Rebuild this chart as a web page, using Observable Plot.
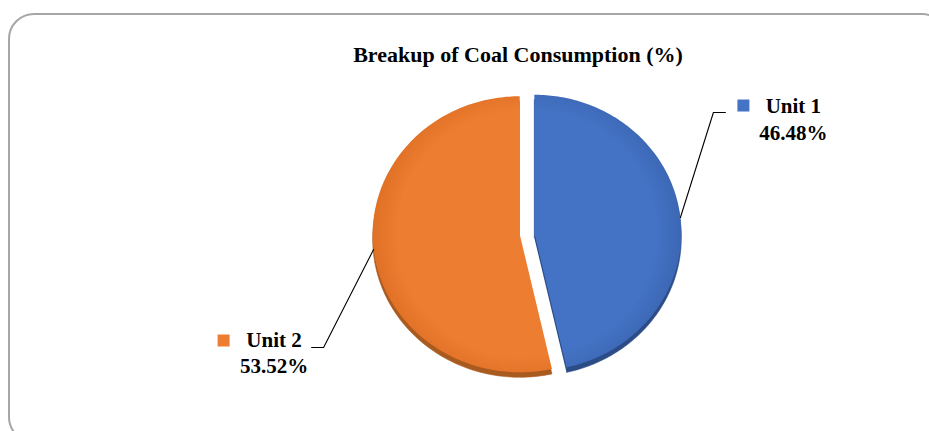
<!DOCTYPE html>
<html>
<head>
<meta charset="utf-8">
<script src="https://cdn.jsdelivr.net/npm/d3@7"></script>
<script src="https://cdn.jsdelivr.net/npm/@observablehq/plot@0.6"></script>
<style>
  html, body { margin: 0; padding: 0; background: #fff; overflow: hidden; }
  #chart { position: relative; width: 929px; height: 431px; overflow: hidden; font-family: "Liberation Serif", "Times New Roman", serif; }
  #frame { position: absolute; left: 8px; top: 13px; width: 940px; height: 430px; border: 2px solid #a6a6a6; border-radius: 26px; box-sizing: border-box; }
  #title { position: absolute; left: 268px; width: 500px; top: 44px; text-align: center; font-weight: bold; font-size: 22px; line-height: 22px; color: #000; }
  #plot { position: absolute; left: 0; top: 0; }
</style>
</head>
<body>
<div id="chart">
  <div id="frame"></div>
  <div id="plot"></div>
  <div id="title">Breakup of Coal Consumption (%)</div>
</div>
<script>
// Coal consumption split between the two units (%)
const units = ["Unit 1", "Unit 2"];
const shares = [46.48, 53.52];
const shareLabels = ["46.48%", "53.52%"];

// Slice colours: face, rim (gradient edge) and the darker side wall
const faceColors = ["#4472C4", "#ED7D31"];
const rimColors = ["#3B66B3", "#DE6F24"];
const sideColors = ["#2B4C86", "#A95A1E"];

// Layout (pixels)
const W = 929, H = 431;
const CX = 526.5, CY = 233;     // pie centre
const RX = 147, RY = 138;       // slight tilt: horizontal / vertical radius
const EXPLODE = 0.05;           // slice pull-out, in radius units
const DEPTH = 5;                // visible thickness of the pie wall
// leader bends: [elbow dx, elbow dy, horizontal tail]
const leaderBends = [[33, -105, 12], [-50, 98, -12]];
// label placement relative to the leader tail: [text centre dx, last baseline dy, key dx, key dy]
const labelOffsets = [[68, 27, 18, -7], [-37.5, 26, -88, -7]];

// pixel offsets -> data units
const ux = (px) => px / RX;
const uy = (py) => -py / RY;

const arcs = d3.pie().sort(null).value((d) => d)(shares);
const N = 180;
const faceRows = [], sideRows = [], leaderRows = [], labelRows = [], centres = [];

arcs.forEach((arc, i) => {
  const unit = units[i];
  const mid = (arc.startAngle + arc.endAngle) / 2;
  const cx = EXPLODE * Math.sin(mid), cy = EXPLODE * Math.cos(mid);
  centres.push([cx, cy]);
  const pts = [[cx, cy]];
  for (let k = 0; k <= N; ++k) {
    const t = arc.startAngle + (arc.endAngle - arc.startAngle) * k / N;
    pts.push([cx + Math.sin(t), cy + Math.cos(t)]);
  }
  for (const [x, y] of pts) {
    faceRows.push({unit, x, y, fill: `url(#face-${i})`});
    sideRows.push({unit, x, y: y + uy(DEPTH), fill: sideColors[i]});
  }
  // leader line from the slice edge at its mid angle
  const ax = cx + Math.sin(mid), ay = cy + Math.cos(mid);
  const [bx, by, tail] = leaderBends[i];
  const ex = ax + ux(bx), ey = ay + uy(by);
  const tx = ex + ux(tail), ty = ey;
  leaderRows.push({unit, x: ax, y: ay}, {unit, x: ex, y: ey}, {unit, x: tx, y: ty});
  const [tdx, tdy, kdx, kdy] = labelOffsets[i];
  labelRows.push({
    unit,
    text: `${unit}\n${shareLabels[i]}`,
    x: tx + ux(tdx), y: ty + uy(tdy),
    kx: tx + ux(kdx), ky: ty + uy(kdy),
    color: faceColors[i]
  });
});

const plot = Plot.plot({
  width: W,
  height: H,
  margin: 0,
  x: {domain: [-CX / RX, (W - CX) / RX], axis: null},
  y: {domain: [-(H - CY) / RY, CY / RY], axis: null},
  color: {type: "identity"},
  marks: [
    Plot.line(sideRows, {x: "x", y: "y", z: "unit", fill: "fill", stroke: "fill", strokeWidth: 0.6}),
    Plot.line(faceRows, {x: "x", y: "y", z: "unit", fill: "fill", stroke: "none"}),
    Plot.line(leaderRows, {x: "x", y: "y", z: "unit", stroke: "#000", strokeWidth: 1.1}),
    Plot.dot(labelRows, {x: "kx", y: "ky", symbol: "square", r: 6.77, fill: "color", stroke: "none"}),
    Plot.text(labelRows, {
      x: "x", y: "y", text: "text",
      textAnchor: "middle", lineAnchor: "bottom", lineHeight: 1.24,
      fontFamily: "Liberation Serif", fontWeight: "bold", fontSize: 21, fill: "#000"
    })
  ]
});

// radial shading for each slice face, darkening toward the rim
const sx = plot.scale("x"), sy = plot.scale("y");
const defs = d3.select(plot).insert("defs", ":first-child");
centres.forEach(([cx, cy], i) => {
  const g = defs.append("radialGradient")
    .attr("id", `face-${i}`)
    .attr("gradientUnits", "userSpaceOnUse")
    .attr("cx", sx.apply(cx)).attr("cy", sy.apply(cy)).attr("r", RX + 2);
  g.append("stop").attr("offset", 0).attr("stop-color", faceColors[i]);
  g.append("stop").attr("offset", 0.82).attr("stop-color", faceColors[i]);
  g.append("stop").attr("offset", 1).attr("stop-color", rimColors[i]);
});

document.getElementById("plot").appendChild(plot);
</script>
</body>
</html>
